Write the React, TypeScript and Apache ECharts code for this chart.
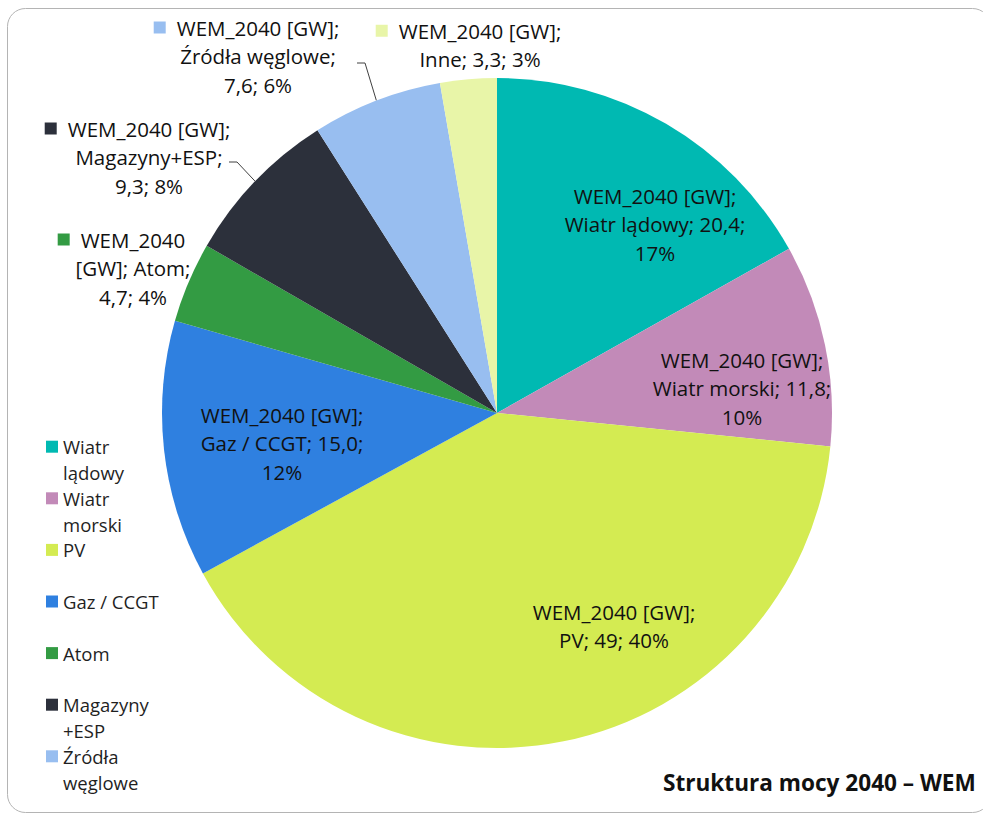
import React, { useEffect, useRef } from "react";
import * as echarts from "echarts";

// ---------- data ----------
const SERIES_NAME = "WEM_2040 [GW]";
const categories = [
  "Wiatr lądowy",
  "Wiatr morski",
  "PV",
  "Gaz / CCGT",
  "Atom",
  "Magazyny+ESP",
  "Źródła węglowe",
  "Inne",
];
const values = [20.4, 11.8, 49, 15.0, 4.7, 9.3, 7.6, 3.3];
const valueLabels = ["20,4", "11,8", "49", "15,0", "4,7", "9,3", "7,6", "3,3"];
const colors = [
  "#00B9B2",
  "#C28AB8",
  "#D4EB52",
  "#2F80E0",
  "#339B43",
  "#2C303B",
  "#98BEF0",
  "#E8F5A8",
];
// Legend (the original legend is truncated after "Źródła węglowe")
const legendCategories = categories.slice(0, 7);
const legendLines = [
  "Wiatr\nlądowy",
  "Wiatr\nmorski",
  "PV\n ",
  "Gaz / CCGT\n ",
  "Atom\n ",
  "Magazyny\n+ESP",
  "Źródła\nwęglowe",
];
const TITLE = "Struktura mocy 2040 – WEM";

// ---------- layout / style ----------
const FONT = '"Open Sans", "Noto Sans", sans-serif';
const PIE_CENTER = [497, 413];
const PIE_RADIUS = 335;
const labelKinds = ["in3", "in3", "in2", "in3", "outSplit", "out3", "out3", "out2"];
// label centre offsets relative to the pie centre
const labelOffsets = [
  [158, -189],
  [245, -25],
  [117, 213],
  [-215, 30],
  [-364, -145],
  [-348, -256],
  [-239, -357],
  [-17, -368],
];
// leader-line start offsets relative to label centre
const leaderStarts: (number[] | null)[] = [null, null, null, null, null, [80, 5], [99, 7], null];

function buildLabel(i: number, pct: number): string {
  const name = categories[i];
  const v = valueLabels[i];
  switch (labelKinds[i]) {
    case "in3":
      return `${SERIES_NAME};\n${name}; ${v};\n${pct}%`;
    case "in2":
      return `${SERIES_NAME};\n${name}; ${v}; ${pct}%`;
    case "out3":
      return `{k|}{g|}${SERIES_NAME};{p|}\n${name};\n${v}; ${pct}%`;
    case "out2":
      return `{k|}{g|}${SERIES_NAME};{p|}\n${name}; ${v}; ${pct}%`;
    default:
      return `{k|}{g|}WEM_2040{p|}\n[GW]; ${name};\n${v}; ${pct}%`;
  }
}

export default function App() {
  const ref = useRef<HTMLDivElement>(null);

  useEffect(() => {
    if (!ref.current) return;
    const chart = echarts.init(ref.current, undefined, { renderer: "svg" });

    const data = categories.map((name, i) => {
      const outside = labelKinds[i].startsWith("out");
      return {
        name,
        value: values[i],
        itemStyle: { color: colors[i] },
        label: {
          position: outside ? "outside" : "inside",
          rich: outside
            ? {
                k: { width: 12, height: 12, backgroundColor: colors[i] },
                g: { width: 11 },
                p: { width: 23 },
              }
            : undefined,
        },
        labelLine: { show: leaderStarts[i] != null },
      };
    });

    const option: any = {
      animation: false,
      backgroundColor: "#ffffff",
      title: {
        text: TITLE,
        left: 663,
        top: 770,
        padding: 0,
        textStyle: {
          fontFamily: FONT,
          fontSize: 22.6,
          fontWeight: "bold",
          color: "#111111",
          lineHeight: 25,
        },
      },
      legend: {
        orient: "vertical",
        left: 46,
        top: 408,
        padding: 0,
        itemWidth: 12,
        itemHeight: 12,
        itemGap: -25.8,
        icon: "rect",
        selectedMode: false,
        data: legendCategories,
        // a blank first line keeps the icon level with the first text line
        formatter: (name: string) => " \n" + legendLines[legendCategories.indexOf(name)],
        textStyle: {
          fontFamily: FONT,
          fontSize: 18.5,
          lineHeight: 25.8,
          color: "#1f1f1f",
          backgroundColor: "rgba(255,255,255,0)",
        },
      },
      graphic: [
        {
          type: "rect",
          shape: { x: 7.5, y: 8.5, width: 983, height: 804, r: 18 },
          style: { fill: "none", stroke: "#b4b4b4", lineWidth: 1 },
          silent: true,
          z: -1,
        },
      ],
      series: [
        {
          type: "pie",
          name: SERIES_NAME,
          center: PIE_CENTER,
          radius: PIE_RADIUS,
          startAngle: 90,
          clockwise: true,
          percentPrecision: 0,
          avoidLabelOverlap: false,
          emphasis: { disabled: true },
          itemStyle: { borderWidth: 0 },
          label: {
            show: true,
            overflow: "none",
            fontFamily: FONT,
            fontSize: 20.5,
            lineHeight: 28.5,
            color: "#111111",
            align: "center",
            formatter: (p: any) => buildLabel(p.dataIndex, Math.round(p.percent)),
          },
          labelLine: {
            show: true,
            length: 10,
            length2: 10,
            lineStyle: { color: "#404040", width: 1 },
          },
          labelLayout: (params: any) => {
            const i = params.dataIndex;
            const off = labelOffsets[i];
            const x = PIE_CENTER[0] + off[0];
            const y = PIE_CENTER[1] + off[1];
            const res: any = { x, y, align: "center", verticalAlign: "middle" };
            const lead = leaderStarts[i];
            if (lead && params.labelLinePoints) {
              const p0 = params.labelLinePoints[0];
              const sx = x + lead[0];
              const sy = y + lead[1];
              res.labelLinePoints = [
                [p0[0], p0[1]],
                [sx + 8, sy],
                [sx, sy],
              ];
            }
            return res;
          },
          data,
        },
      ],
    };

    chart.setOption(option);
    return () => chart.dispose();
  }, []);

  return (
    <div
      ref={ref}
      style={{ position: "fixed", left: 0, top: 0, width: 983, height: 813 }}
    />
  );
}
